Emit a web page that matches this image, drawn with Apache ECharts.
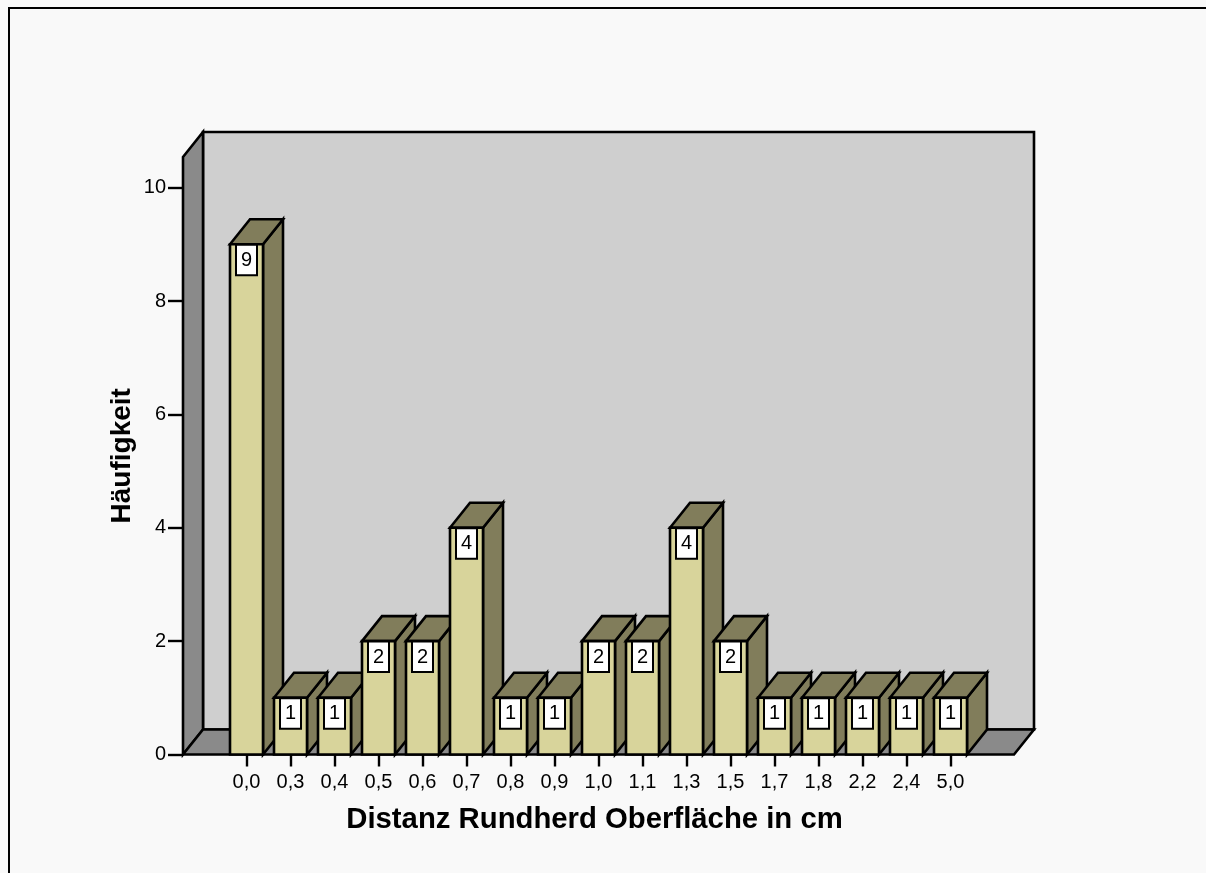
<!DOCTYPE html>
<html>
<head>
<meta charset="utf-8">
<style>html,body{margin:0;padding:0;background:#f9f9f9}#chart{width:1206px;height:873px}</style>
<script src="https://cdn.jsdelivr.net/npm/echarts@6/dist/echarts.min.js"></script>
</head>
<body>
<div id="chart"></div>
<script>
// Frequency of tumour-to-surface distances, drawn as SPSS-style 3D columns.
const categories = ['0,0','0,3','0,4','0,5','0,6','0,7','0,8','0,9','1,0','1,1','1,3','1,5','1,7','1,8','2,2','2,4','5,0'];
const frequencies = [9,1,1,2,2,4,1,1,2,2,4,2,1,1,1,1,1];
const yTicks = [0,2,4,6,8,10];
const xTitle = 'Distanz Rundherd Oberfläche in cm';
const yTitle = 'Häufigkeit';
const FONT = '"Liberation Sans", Arial, sans-serif';

// Pseudo-3D projection: receding edges shift right and up.
const DEPTH_X = 20, DEPTH_Y = 25;
const Y_TOP = 10.54, AXIS_OVERHANG = 41.5;
const stroke = {stroke:'#000', lineWidth:2.6, lineJoin:'miter'};

const poly = (points, fill) => ({type:'polygon', shape:{points}, style:{fill, ...stroke}});

function renderFrame(params, api) {
  const cs = params.coordSys;
  const x0 = cs.x - AXIS_OVERHANG, x1 = cs.x + cs.width + AXIS_OVERHANG;
  const yb = api.coord([0, 0])[1], yt = api.coord([0, Y_TOP])[1];
  return {type:'group', children:[
    poly([[x0+DEPTH_X,yt-DEPTH_Y],[x1+DEPTH_X,yt-DEPTH_Y],[x1+DEPTH_X,yb-DEPTH_Y],[x0+DEPTH_X,yb-DEPTH_Y]], '#cfcfcf'),
    poly([[x0,yt],[x0+DEPTH_X,yt-DEPTH_Y],[x0+DEPTH_X,yb-DEPTH_Y],[x0,yb]], '#8a8a8a'),
    poly([[x0,yb],[x0+DEPTH_X,yb-DEPTH_Y],[x1+DEPTH_X,yb-DEPTH_Y],[x1,yb]], '#8a8a8a')
  ]};
}

function renderColumn(params, api) {
  const p = api.coord([api.value(0), api.value(1)]);
  const base = api.coord([api.value(0), 0])[1];
  const w = api.size([1, 0])[0] * 0.75;
  const l = p[0] - w/2, r = p[0] + w/2, t = p[1];
  const bw = 21, bh = 30.5;
  return {type:'group', children:[
    poly([[r,t],[r+DEPTH_X,t-DEPTH_Y],[r+DEPTH_X,base-DEPTH_Y],[r,base]], '#817d5b'),
    poly([[l,t],[l+DEPTH_X,t-DEPTH_Y],[r+DEPTH_X,t-DEPTH_Y],[r,t]], '#817d5b'),
    poly([[l,t],[r,t],[r,base],[l,base]], '#d8d49b'),
    {type:'rect', shape:{x:p[0]-bw/2, y:t+0.5, width:bw, height:bh},
     style:{fill:'#fff', stroke:'#000', lineWidth:2}},
    {type:'text', x:p[0], y:t+16,
     style:{text:String(api.value(1)), fill:'#000', font:'20px '+FONT, textAlign:'center', textVerticalAlign:'middle'}}
  ]};
}

const chart = echarts.init(document.getElementById('chart'), null, {renderer:'canvas'});
chart.setOption({
  animation:false,
  backgroundColor:'#f9f9f9',
  graphic:[{type:'polyline', shape:{points:[[9,873],[9,8],[1206,8]]}, style:{stroke:'#000', lineWidth:2, fill:'none'}, z:-1}],
  grid:{left:224.5, width:748, top:157, height:597.5, containLabel:false},
  xAxis:{type:'category', data:categories, boundaryGap:true,
    axisLine:{show:false},
    axisTick:{show:true, alignWithLabel:true, length:12, lineStyle:{color:'#000', width:2.4}},
    axisLabel:{interval:0, margin:18, color:'#000', fontFamily:FONT, fontSize:20},
    name:xTitle, nameLocation:'middle', nameGap:51,
    nameTextStyle:{color:'#000', fontFamily:FONT, fontWeight:'bold', fontSize:29.3, padding:[0,8,0,0]}},
  yAxis:{type:'value', min:0, max:Y_TOP, interval:2, offset:AXIS_OVERHANG,
    axisLine:{show:false}, splitLine:{show:false},
    axisTick:{show:true, length:15, lineStyle:{color:'#000', width:2.4}, customValues:yTicks},
    axisLabel:{margin:17, color:'#000', fontFamily:FONT, fontSize:20, customValues:yTicks},
    name:yTitle, nameLocation:'middle', nameGap:47, nameRotate:90, nameMoveOverlap:false,
    nameTextStyle:{color:'#000', fontFamily:FONT, fontWeight:'bold', fontSize:28}},
  series:[
    {type:'custom', z:1, clip:false, silent:true, renderItem:renderFrame, data:[[0,0]], encode:{x:0,y:1}},
    {type:'custom', z:2, clip:false, renderItem:renderColumn,
     data:frequencies.map((v,i)=>[i,v]), encode:{x:0,y:1}}
  ]
});
</script>
</body>
</html>
